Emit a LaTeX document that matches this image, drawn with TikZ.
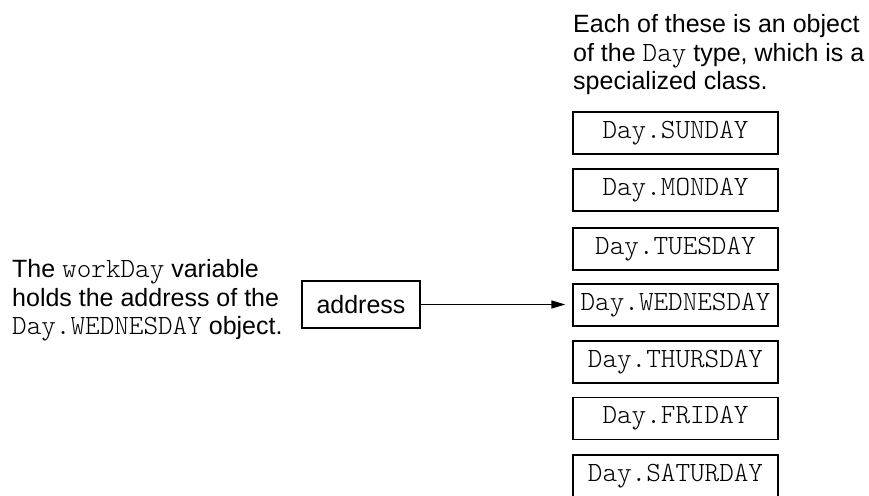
\documentclass[tikz,border=0pt]{standalone}
\usepackage{fontspec}
\setmainfont{Liberation Sans}
\setmonofont{lmmonolt10-regular.otf}
\usetikzlibrary{arrows.meta}
\newcommand{\mysize}{\fontsize{25}{28.8}\selectfont}
\newcommand{\monosize}{\fontsize{27.8}{28.8}\selectfont}
\tikzset{
  daybox/.style={draw, line width=1.4pt, minimum width=205pt, minimum height=42pt, inner sep=0pt, font=\monosize\ttfamily},
  addrbox/.style={draw, line width=1.4pt, minimum width=118pt, minimum height=47pt, inner sep=0pt, font=\mysize},
  note/.style={align=left, inner sep=0pt, anchor=north west, font=\mysize},
  ptr/.style={line width=1.4pt, -{Triangle[length=14pt,width=8pt]}, shorten >=7pt}
}
\begin{document}
\begin{tikzpicture}[x=1pt,y=-1pt]
\clip (0,0) rectangle (869,495);
\fill[white] (0,0) rectangle (869,495);
\node[note] (top) at (573,14) {Each of these is an object\\of the \texttt{\monosize Day} type, which is a\\specialized class.};
\node[note] (left) at (12,259) {The \texttt{\monosize workDay} variable\\holds the address of the\\\texttt{\monosize Day.WEDNESDAY} object.};
\node[daybox] (sun) at (675.5,133) {Day.SUNDAY};
\node[daybox] (mon) at (675.5,190) {Day.MONDAY};
\node[daybox] (tue) at (675.5,249) {Day.TUESDAY};
\node[daybox] (wed) at (675.5,305) {Day.WEDNESDAY};
\node[daybox] (thu) at (675.5,362) {Day.THURSDAY};
\node[daybox] (fri) at (675.5,418.5) {Day.FRIDAY};
\node[daybox] (sat) at (675.5,476) {Day.SATURDAY};
\node[addrbox] (addr) at (361,304.5) {address};
\draw[ptr] (addr.east) -- (addr.east -| wed.west);
\end{tikzpicture}
\end{document}
